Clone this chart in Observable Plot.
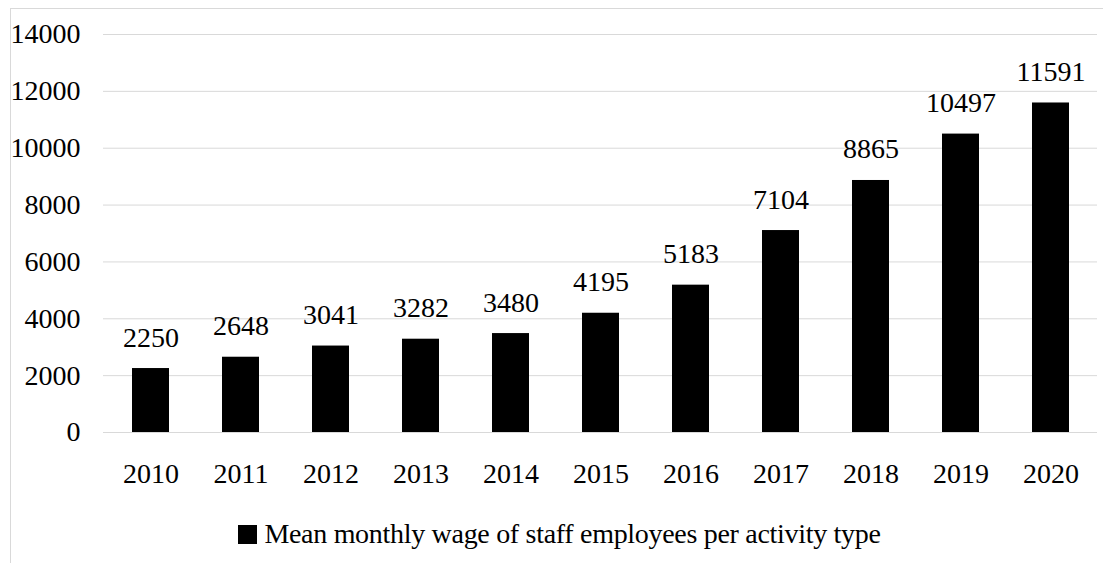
<!DOCTYPE html>
<html>
<head>
<meta charset="utf-8">
<script src="https://cdn.jsdelivr.net/npm/d3@7"></script>
<script src="https://cdn.jsdelivr.net/npm/@observablehq/plot@0.6"></script>
<style>
  html, body { margin: 0; padding: 0; background: #fff; }
  #wrap { position: relative; width: 1103px; height: 563px; overflow: hidden; font-family: "Liberation Serif", "Times New Roman", serif; }
  #frame { position: absolute; left: 10px; top: 8px; width: 1200px; height: 700px; border-left: 1px solid #d9d9d9; border-top: 1px solid #d9d9d9; box-sizing: border-box; }
  #chart { position: absolute; left: 0; top: 0; }
  #legend { position: absolute; left: 8px; top: 518px; width: 1103px; text-align: center; font-size: 28px; color: #000; white-space: nowrap; letter-spacing: -0.3px; }
  #legend .sw { display: inline-block; width: 19px; height: 19px; background: #000; margin-right: 7px; vertical-align: -1px; }
</style>
</head>
<body>
<div id="wrap">
  <div id="frame"></div>
  <div id="chart"></div>
  <div id="legend"><span class="sw"></span>Mean monthly wage of staff employees per activity type</div>
</div>
<script>
const years = ["2010","2011","2012","2013","2014","2015","2016","2017","2018","2019","2020"];
const wages = [2250, 2648, 3041, 3282, 3480, 4195, 5183, 7104, 8865, 10497, 11591];
const yTicks = [0, 2000, 4000, 6000, 8000, 10000, 12000, 14000];

const data = years.map((y, i) => ({year: y, wage: wages[i]}));

const plot = Plot.plot({
  width: 1103,
  height: 500,
  marginLeft: 103,
  marginRight: 6,
  marginTop: 34,
  marginBottom: 68,
  style: {fontFamily: '"Liberation Serif", "Times New Roman", serif', fontSize: "28px", background: "transparent", overflow: "visible"},
  x: {domain: years, paddingInner: 0.59, paddingOuter: 0.295, label: null},
  y: {domain: [0, 14000], label: null},
  marks: [
    Plot.ruleY(yTicks, {stroke: "#d9d9d9", strokeWidth: 1}),
    Plot.axisY({ticks: yTicks, tickSize: 0, tickPadding: 23, tickFormat: d => String(d), fill: "#000"}),
    Plot.axisX({tickSize: 0, tickPadding: 31, fill: "#000"}),
    Plot.barY(data, {x: "year", y: "wage", fill: "#000"}),
    Plot.text(data, {x: "year", y: "wage", text: d => String(d.wage), dy: -31, lineAnchor: "middle", fill: "#000"})
  ]
});
document.getElementById("chart").appendChild(plot);
</script>
</body>
</html>
